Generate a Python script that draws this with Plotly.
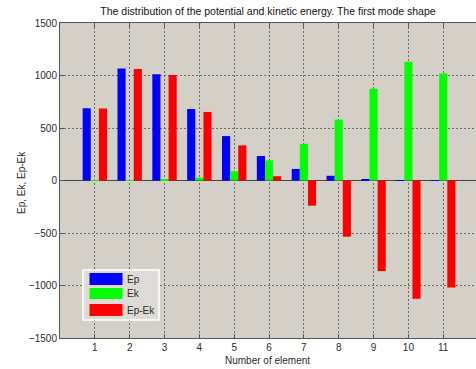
import plotly.graph_objects as go

# Energy per element for the first mode shape
elements = [1, 2, 3, 4, 5, 6, 7, 8, 9, 10, 11]
ep = [688, 1066, 1012, 681, 423, 233, 110, 45, 12, 3, 1]
ek = [2, 4, 8, 28, 88, 192, 350, 580, 873, 1130, 1020]
ep_minus_ek = [686, 1062, 1004, 653, 335, 41, -240, -535, -861, -1127, -1019]

series_names = ["Ep", "Ek", "Ep-Ek"]
series_colors = ["#0000ff", "#00ff00", "#ff0000"]
y_ticks = [-1500, -1000, -500, 0, 500, 1000, 1500]

W, H = 476, 369
ML, MR, MT, MB = 60, 0, 23, 31

fig = go.Figure()
for name, vals, col in zip(series_names, [ep, ek, ep_minus_ek], series_colors):
    fig.add_trace(go.Bar(
        x=elements, y=vals, name=name,
        marker=dict(color=col, line=dict(width=0)),
        showlegend=False,
    ))

font_main = "Liberation Sans, Arial, sans-serif"
axis_col = "#555555"
grid_col = "rgba(80,80,80,0.8)"
grid_dash = "1.5px,2.5px"

fig.update_layout(
    width=W, height=H,
    margin=dict(l=ML, r=MR, t=MT, b=MB, pad=0),
    paper_bgcolor="white",
    plot_bgcolor="#d4d0c8",
    barmode="group",
    bargap=0.3,
    bargroupgap=0.0,
    font=dict(family=font_main, size=10, color="#2a2a2a"),
    title=dict(
        text="The distribution of the potential and kinetic energy. The first mode shape",
        x=0.563, xanchor="center", xref="container",
        y=1 - 11 / H, yanchor="middle", yref="container",
        font=dict(size=10.5, color="#111111"),
    ),
)

fig.update_xaxes(
    range=[0, (W - ML - MR) / 34.84],
    tickvals=elements,
    ticks="inside", ticklen=4, tickcolor=axis_col,
    showline=True, linecolor=axis_col, linewidth=1, mirror="ticks",
    showgrid=True, gridcolor=grid_col, griddash=grid_dash, gridwidth=1,
    zeroline=False,
    tickfont=dict(size=10, color="#2a2a2a"),
)
fig.update_yaxes(
    range=[-1500, 1500],
    tickvals=y_ticks,
    ticks="inside", ticklen=4, tickcolor=axis_col,
    showline=True, linecolor=axis_col, linewidth=1, mirror=False,
    showgrid=True, gridcolor=grid_col, griddash=grid_dash, gridwidth=1,
    zeroline=True, zerolinecolor="#444444", zerolinewidth=1,
    tickfont=dict(size=10, color="#2a2a2a"),
)

pw, ph = W - ML - MR, H - MT - MB


def px_x(p):
    return (p - ML) / pw


def px_y(p):
    return (H - MB - p) / ph


# Axis labels
fig.add_annotation(text="Number of element", xref="paper", yref="paper",
                   x=px_x(267), y=px_y(360), showarrow=False,
                   xanchor="center", yanchor="middle",
                   font=dict(size=10, color="#2a2a2a"))
fig.add_annotation(text="Ep, Ek, Ep-Ek", xref="paper", yref="paper",
                   x=px_x(21), y=px_y(183), showarrow=False, textangle=-90,
                   xanchor="center", yanchor="middle",
                   font=dict(size=10, color="#2a2a2a"))

# Legend box with wide colour swatches
fig.add_shape(type="rect", xref="paper", yref="paper",
              x0=px_x(83), x1=px_x(159), y0=px_y(320), y1=px_y(270),
              fillcolor="#dedbd6", line=dict(color="white", width=1.5))
rows = [(273, 285), (288, 299), (304, 316)]
for (top, bot), name, col in zip(rows, series_names, series_colors):
    fig.add_shape(type="rect", xref="paper", yref="paper",
                  x0=px_x(89.5), x1=px_x(122.5), y0=px_y(bot), y1=px_y(top),
                  fillcolor=col, line=dict(width=0))
    fig.add_annotation(text=name, xref="paper", yref="paper",
                       x=px_x(125), y=px_y((top + bot) / 2), showarrow=False,
                       xanchor="left", yanchor="middle",
                       font=dict(size=10, color="#2a2a2a"))

fig.write_html("out.html")
